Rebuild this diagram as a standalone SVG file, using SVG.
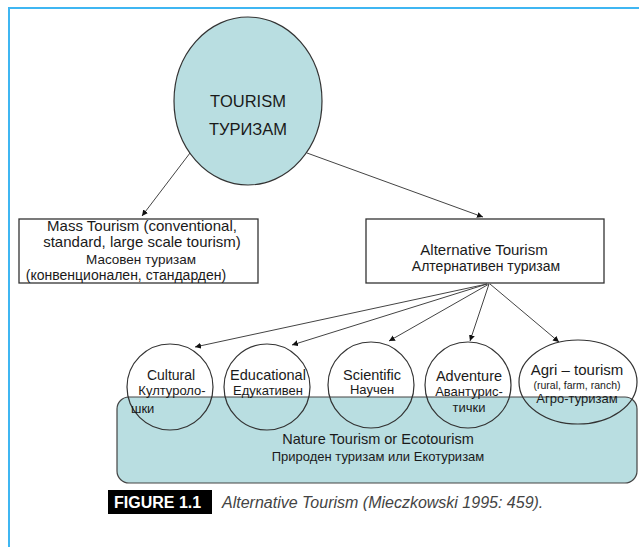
<svg xmlns="http://www.w3.org/2000/svg" width="639" height="547" viewBox="0 0 639 547">
<style>
.t{font-family:"Liberation Sans",Arial,sans-serif;fill:#1a1a1a;text-anchor:middle}
.cir{fill:none;stroke:#333;stroke-width:1.2}
.box{fill:#fff;stroke:#333;stroke-width:1.3}
.teal{fill:#b9dee1;stroke:#444;stroke-width:1.2}
.con{stroke:#444;stroke-width:1;fill:none;marker-end:url(#arr)}
</style>
<defs>
<marker id="arr" markerWidth="8" markerHeight="8" refX="6" refY="3" orient="auto" markerUnits="userSpaceOnUse">
<path d="M0,0 L6,3 L0,6 z" fill="#111"/>
</marker>
</defs>
<rect width="639" height="547" fill="#fff"/>
<g id="frame" stroke="#3fb6f2" stroke-width="2" fill="none">
<path d="M9,547 L9,8 L639,8"/>
</g>
<g id="connectors">
<line class="con" x1="190" y1="153" x2="142" y2="216"/>
<line class="con" x1="307" y1="153" x2="483" y2="217"/>
<line class="con" x1="487" y1="284" x2="195" y2="347"/>
<line class="con" x1="487" y1="284" x2="292" y2="345"/>
<line class="con" x1="489" y1="284" x2="389" y2="341"/>
<line class="con" x1="489" y1="284" x2="470" y2="341"/>
<line class="con" x1="490" y1="284" x2="559" y2="342"/>
</g>
<g id="tourism">
<ellipse cx="248" cy="101" rx="74" ry="84" fill="#b9dee1" stroke="#333" stroke-width="1.2"/>
<text class="t" x="248" y="107" font-size="16.5">TOURISM</text>
<text class="t" x="248" y="135" font-size="16.5">ТУРИЗАМ</text>
</g>
<g id="mass">
<rect class="box" x="19" y="219" width="239" height="64"/>
<text class="t" x="142" y="231" font-size="15">Mass Tourism (conventional,</text>
<text class="t" x="142" y="247" font-size="15">standard, large scale tourism)</text>
<text class="t" x="141" y="264" font-size="13.5">Масовен туризам</text>
<text class="t" x="126" y="280" font-size="14">(конвенционален, стандарден)</text>
</g>
<g id="alternative">
<rect class="box" x="366" y="219" width="238" height="64"/>
<text class="t" x="484" y="255" font-size="15">Alternative Tourism</text>
<text class="t" x="486" y="271" font-size="14">Алтернативен туризам</text>
</g>
<g id="nature">
<rect class="teal" x="117" y="397" width="520" height="86" rx="12" ry="12"/>
<text class="t" x="378" y="444" font-size="14.5">Nature Tourism or Ecotourism</text>
<text class="t" x="378" y="461" font-size="13">Природен туризам или Екотуризам</text>
</g>
<g id="cultural">
<ellipse class="cir" cx="170" cy="387" rx="43" ry="43"/>
<text class="t" x="171" y="380" font-size="14">Cultural</text>
<text class="t" x="172" y="395" font-size="13">Културоло-</text>
<text class="t" x="131" y="413" font-size="13" style="text-anchor:start">шки</text>
</g>
<g id="educational">
<ellipse class="cir" cx="267" cy="387" rx="43" ry="43"/>
<text class="t" x="268" y="380" font-size="14.5">Educational</text>
<text class="t" x="268" y="395" font-size="13">Едукативен</text>
</g>
<g id="scientific">
<ellipse class="cir" cx="371" cy="385" rx="43" ry="43"/>
<text class="t" x="372" y="380" font-size="14.5">Scientific</text>
<text class="t" x="372" y="394" font-size="13">Научен</text>
</g>
<g id="adventure">
<ellipse class="cir" cx="468" cy="385" rx="43" ry="43"/>
<text class="t" x="469" y="381" font-size="14.5">Adventure</text>
<text class="t" x="469" y="396" font-size="13">Авантурис-</text>
<text class="t" x="469" y="412" font-size="13">тички</text>
</g>
<g id="agri">
<ellipse class="cir" cx="578" cy="382" rx="59" ry="42"/>
<text class="t" x="577" y="375" font-size="15">Agri – tourism</text>
<text class="t" x="577" y="389" font-size="10.5">(rural, farm, ranch)</text>
<text class="t" x="577" y="403" font-size="13">Агро-туризам</text>
</g>
<g id="caption">
<rect x="108" y="490" width="104" height="24" fill="#000"/>
<text x="114" y="508" font-family="'Liberation Sans',Arial,sans-serif" font-weight="bold" font-size="16" fill="#fff">FIGURE 1.1</text>
<text x="222" y="508" font-family="'Liberation Sans',Arial,sans-serif" font-style="italic" font-size="16" fill="#444">Alternative Tourism (Mieczkowski 1995: 459).</text>
</g>
</svg>
